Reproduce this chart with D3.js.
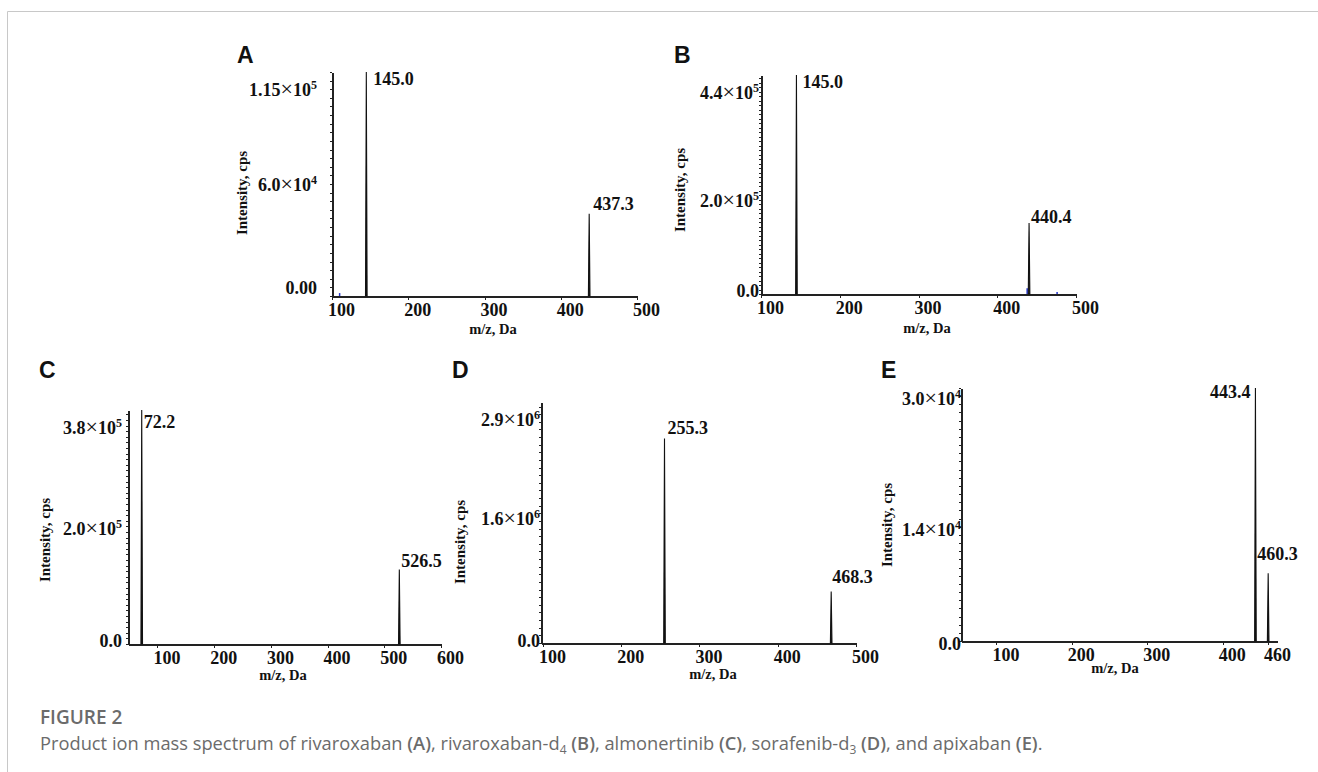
<!doctype html>
<html lang="en">
  <head>
    <meta charset="UTF-8" />
    <title>Product ion mass spectra</title>
    <script src="https://d3js.org/d3.v7.min.js"></script>
    <style>
      body { margin: 0; background: #fff; }
      svg { display: block; }
      .serif { font-family: 'Liberation Serif', 'Times New Roman', serif; font-weight: bold; fill: #111; }
      .letter { font-family: 'Liberation Sans', Arial, sans-serif; font-weight: bold; font-size: 23px; fill: #111; }
      .axis path, .axis line { stroke: #222; shape-rendering: crispEdges; }
      .caption-title { font-family: 'Open Sans', sans-serif; font-weight: 600; font-size: 19px; fill: #6b6b6b; }
      .caption { font-family: 'Open Sans', sans-serif; font-size: 18.3px; fill: #6b6b6b; }
    </style>
  </head>
  <body>
    <svg id="fig" width="1318" height="772"></svg>
    <script>
      // spectra
      const panelIds = ['A', 'B', 'C', 'D', 'E'];
      const peakMz = [[145.0, 437.3], [145.0, 440.4], [72.2, 526.5], [255.3, 468.3], [443.4, 460.3]];
      const peakIntensity = [[1.30e5, 4.77e4], [4.87e5, 1.58e5], [4.18e5, 1.33e5], [2.68e6, 6.75e5], [3.1e4, 8.3e3]];
      const noiseMz = [[110], [438, 476], [], [], []];
      const noiseIntensity = [[1.7e3], [1.27e4, 4.4e3], [], [], []];
      const xDomains = [[100, 500], [100, 500], [48, 600], [97.5, 500], [53, 472]];
      const xTicks = [
        [100, 200, 300, 400, 500],
        [100, 200, 300, 400, 500],
        [100, 200, 300, 400, 500, 600],
        [100, 200, 300, 400, 500],
        [100, 200, 300, 400, 460],
      ];
      const yMax = [1.30e5, 4.87e5, 4.18e5, 3.16e6, 3.1e4];
      const yTicks = [[0, 6.0e4, 1.15e5], [0, 2.0e5, 4.4e5], [0, 2.0e5, 3.8e5], [0, 1.6e6, 2.9e6], [0, 1.4e4, 3.0e4]];
      const yTickText = [
        ['0.00', '6.0×10^4', '1.15×10^5'],
        ['0.0', '2.0×10^5', '4.4×10^5'],
        ['0.0', '2.0×10^5', '3.8×10^5'],
        ['0.0', '1.6×10^6', '2.9×10^6'],
        ['0.0', '1.4×10^4', '3.0×10^4'],
      ];

      // layout of each panel on the page
      const layout = {
        A: { box: [332, 637, 72, 296], letter: [237, 63], yTitle: [242, 193], xTitle: [493, 334], yShift: -8, yGap: 15,
             peakLabel: [[7, 13, 'start'], [4, -4, 'start']] },
        B: { box: [761, 1076, 75, 294], letter: [674, 63], yTitle: [680, 190], xTitle: [927, 333], yShift: -3, yGap: 2,
             peakLabel: [[6, 13, 'start'], [2, 0, 'start']] },
        C: { box: [128, 441, 410, 644], letter: [39, 378], yTitle: [45, 540], xTitle: [283, 680], yShift: -3, yGap: 6,
             peakLabel: [[2, 18, 'start'], [2, -3, 'start']] },
        D: { box: [541, 856, 402, 643], letter: [452, 378], yTitle: [460, 542], xTitle: [713, 679], yShift: -2, yGap: 1,
             peakLabel: [[3, -5, 'start'], [1, -9, 'start']] },
        E: { box: [961, 1277, 388, 641], letter: [881, 378], yTitle: [887, 525], xTitle: [1115, 673], yShift: 3, yGap: 0,
             peakLabel: [[-5, 10, 'end'], [-11, -13, 'start']] },
      };

      const svg = d3.select('#fig');

      // figure frame
      svg.append('path')
        .attr('d', 'M7.5,772 V11.5 H1318')
        .attr('fill', 'none')
        .attr('stroke', '#c8c8c8')
        .attr('stroke-width', 1);

      panelIds.forEach((id, i) => {
        const L = layout[id];
        const [x0, x1, y0, y1] = L.box;
        const g = svg.append('g');

        const x = d3.scaleLinear().domain(xDomains[i]).range([x0, x1]);
        const y = d3.scaleLinear().domain([0, yMax[i]]).range([y1, y0]);

        // panel letter
        g.append('text').attr('class', 'letter')
          .attr('x', L.letter[0]).attr('y', L.letter[1]).text(id);

        // minor ticks on x
        const minor = d3.range(Math.ceil(xDomains[i][0] / 10) * 10, xDomains[i][1], 10);
        g.append('g').attr('class', 'axis')
          .attr('transform', `translate(0,${y1})`)
          .call(d3.axisBottom(x).tickValues(minor).tickSize(2).tickFormat(''))
          .call((a) => a.select('.domain').remove());

        // x axis with labels
        const xa = g.append('g').attr('class', 'axis')
          .attr('transform', `translate(0,${y1})`)
          .call(d3.axisBottom(x).tickValues(xTicks[i]).tickSize(4).tickSizeOuter(0).tickFormat(d3.format('d')));
        xa.select('.domain').attr('stroke-width', 2);
        xa.selectAll('text')
          .attr('class', 'serif')
          .style('font-size', '18px')
          .attr('y', 20).attr('dy', 0).attr('dx', 9);

        // y axis with dense little ticks
        const ya = g.append('g').attr('class', 'axis')
          .attr('transform', `translate(${x0},0)`)
          .call(d3.axisLeft(y).ticks(40).tickSize(2).tickSizeOuter(0).tickFormat(''));
        ya.select('.domain').attr('stroke-width', 2);

        // y tick labels with superscript exponents
        yTicks[i].forEach((v, k) => {
          const parts = yTickText[i][k].split('^');
          const t = g.append('text').attr('class', 'serif')
            .attr('text-anchor', 'end')
            .attr('x', x0 - L.yGap)
            .attr('y', y(v) + L.yShift + 6)
            .style('font-size', '18px');
          const base = parts[0].split('×');
          t.append('tspan').text(base[0]);
          if (base.length > 1) {
            t.append('tspan').style('font-size', '22px').style('font-weight', 'normal').text('×');
            t.append('tspan').text(base[1]);
          }
          if (parts[1]) {
            t.append('tspan').attr('dy', -7).style('font-size', '12px').text(parts[1]);
          }
        });

        // axis titles
        g.append('text').attr('class', 'serif')
          .attr('transform', `translate(${L.yTitle[0]},${L.yTitle[1]}) rotate(-90)`)
          .attr('text-anchor', 'middle')
          .attr('dominant-baseline', 'central')
          .style('font-size', '15px')
          .text('Intensity, cps');
        g.append('text').attr('class', 'serif')
          .attr('x', L.xTitle[0]).attr('y', L.xTitle[1])
          .attr('text-anchor', 'middle')
          .style('font-size', '14.5px')
          .text('m/z, Da');

        // small blue noise peaks
        noiseMz[i].forEach((m, k) => {
          g.append('line')
            .attr('x1', x(m)).attr('x2', x(m))
            .attr('y1', y(0)).attr('y2', y(noiseIntensity[i][k]))
            .attr('stroke', '#2233cc').attr('stroke-width', 1.5);
        });

        // peaks
        peakMz[i].forEach((m, k) => {
          const px = x(m);
          const top = y(peakIntensity[i][k]);
          g.append('path')
            .attr('d', `M${px - 0.8},${y1} L${px},${top} L${px + 0.8},${y1} Z`)
            .attr('fill', '#111')
            .attr('stroke', '#111')
            .attr('stroke-width', 1.1);
          const [dx, dy, anchor] = L.peakLabel[k];
          g.append('text').attr('class', 'serif')
            .attr('x', px + dx).attr('y', top + dy)
            .attr('text-anchor', anchor)
            .style('font-size', '18px')
            .text(m.toFixed(1));
        });
      });

      // caption
      svg.append('text').attr('class', 'caption-title')
        .attr('x', 40).attr('y', 724).text('FIGURE 2');

      const cap = svg.append('text').attr('class', 'caption').attr('x', 40).attr('y', 750);
      const capParts = [
        ['Product ion mass spectrum of rivaroxaban ', 'n'], ['(A)', 'b'], [', rivaroxaban-d', 'n'], ['4', 's'],
        [' ', 'n'], ['(B)', 'b'], [', almonertinib ', 'n'], ['(C)', 'b'], [', sorafenib-d', 'n'], ['3', 's'],
        [' ', 'n'], ['(D)', 'b'], [', and apixaban ', 'n'], ['(E)', 'b'], ['.', 'n'],
      ];
      let shifted = false;
      capParts.forEach(([txt, kind]) => {
        const t = cap.append('tspan').text(txt);
        if (kind === 'b') t.style('font-weight', 600);
        if (kind === 's') {
          t.attr('dy', 4).style('font-size', '12px');
          shifted = true;
        } else if (shifted) {
          t.attr('dy', -4);
          shifted = false;
        }
      });
    </script>
  </body>
</html>
